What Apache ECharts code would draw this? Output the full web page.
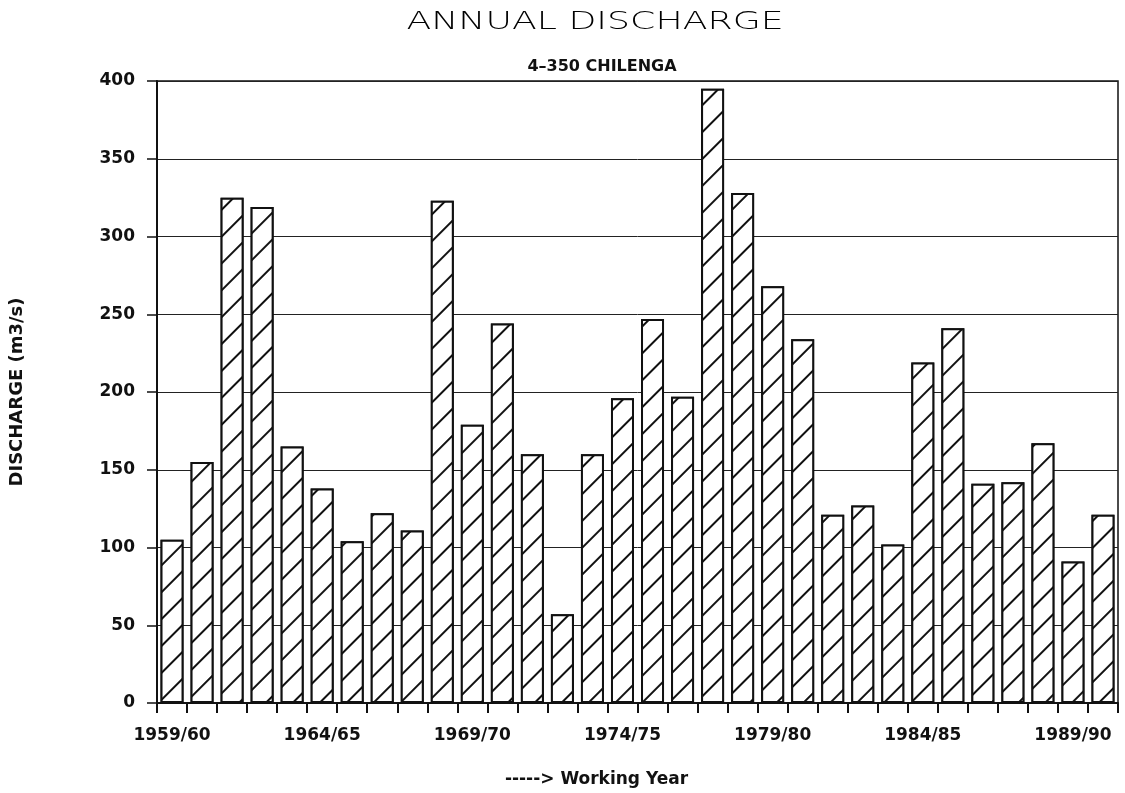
<!DOCTYPE html>
<html>
<head>
<meta charset="utf-8">
<title>Annual Discharge</title>
<script src="https://cdn.jsdelivr.net/npm/echarts@6/dist/echarts.min.js"></script>
<style>
  html, body { margin: 0; padding: 0; background: #fff; }
  #chart { width: 1125px; height: 793px; }
</style>
</head>
<body>
<div id="chart"></div>
<script>
var years = ['1959/60', '1960/61', '1961/62', '1962/63', '1963/64', '1964/65', '1965/66', '1966/67',
             '1967/68', '1968/69', '1969/70', '1970/71', '1971/72', '1972/73', '1973/74', '1974/75',
             '1975/76', '1976/77', '1977/78', '1978/79', '1979/80', '1980/81', '1981/82', '1982/83',
             '1983/84', '1984/85', '1985/86', '1986/87', '1987/88', '1988/89', '1989/90', '1990/91'];
var discharge = [105, 155, 325, 319, 165, 138, 104, 122, 111, 323, 179, 244, 160, 57, 160, 196,
                 247, 197, 395, 328, 268, 234, 121, 127, 102, 219, 241, 141, 142, 167, 91, 121];
var yTicks = [0, 50, 100, 150, 200, 250, 300, 350, 400];

var myChart = echarts.init(document.getElementById('chart'));

var labelFont = {
    fontFamily: 'DejaVu Sans',
    fontWeight: 'bold',
    fontSize: 17,
    color: '#111'
};

myChart.setOption({
    backgroundColor: '#fff',
    animation: false,
    title: {
        text: '4\u2013350 CHILENGA',
        left: 597,
        top: 54,
        textAlign: 'center',
        textStyle: {
            fontFamily: 'DejaVu Sans',
            fontWeight: 'bold',
            fontSize: 16,
            color: '#111'
        }
    },
    graphic: [{
        // main title, stretched like the old plotter lettering
        type: 'text',
        x: 595,
        y: 22,
        scaleX: 1.45,
        style: {
            text: 'ANNUAL DISCHARGE',
            textAlign: 'center',
            textVerticalAlign: 'middle',
            font: '300 25px "DejaVu Sans"',
            fill: '#000'
        }
    }],
    grid: {
        left: 153,
        right: 7,
        top: 81,
        bottom: 90,
        show: true,
        borderColor: '#111',
        borderWidth: 1.5
    },
    xAxis: {
        type: 'category',
        data: years,
        name: '-----> Working Year',
        nameLocation: 'middle',
        nameGap: 68,
        nameTextStyle: {
            fontFamily: 'DejaVu Sans',
            fontWeight: 'bold',
            fontSize: 17,
            color: '#111',
            padding: [0, 82, 0, 0]
        },
        axisLine: { lineStyle: { color: '#111', width: 2 } },
        axisTick: {
            show: true,
            interval: 0,
            length: 10,
            lineStyle: { color: '#111', width: 2 }
        },
        axisLabel: Object.assign({ interval: 4, margin: 24 }, labelFont),
        splitLine: { show: false }
    },
    yAxis: {
        type: 'value',
        min: 0,
        max: 400,
        interval: 50,
        name: 'DISCHARGE (m3/s)',
        nameLocation: 'middle',
        nameGap: 131,
        nameTextStyle: {
            fontFamily: 'DejaVu Sans',
            fontWeight: 'bold',
            fontSize: 18,
            color: '#111'
        },
        axisLine: { show: true, lineStyle: { color: '#111', width: 2 } },
        axisTick: { show: true, length: 10, lineStyle: { color: '#111', width: 1.5 } },
        axisLabel: Object.assign({
            margin: 22,
            formatter: function (v) { return yTicks.indexOf(v) >= 0 ? String(v) : ''; }
        }, labelFont),
        splitLine: { lineStyle: { color: '#222', width: 1 } }
    },
    series: [{
        type: 'bar',
        data: discharge,
        barWidth: 23,
        itemStyle: {
            color: '#fff',
            borderColor: '#111',
            borderWidth: 2,
            decal: {
                symbol: 'rect',
                symbolSize: 1,
                color: '#111',
                backgroundColor: '#fff',
                dashArrayX: [1, 0],
                dashArrayY: [1.5, 16.5],
                rotation: -Math.PI / 4
            }
        }
    }]
});
</script>
</body>
</html>
